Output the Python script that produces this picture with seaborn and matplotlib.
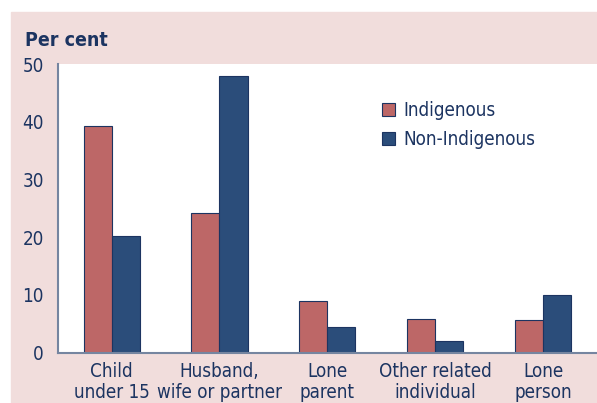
import pandas as pd
import matplotlib.pyplot as plt
import matplotlib.patches as mpatches
import seaborn as sns

categories = ["Child\nunder 15", "Husband,\nwife or partner", "Lone\nparent",
              "Other related\nindividual", "Lone\nperson"]
indigenous = [39.3, 24.2, 9.0, 5.8, 5.7]
non_indigenous = [20.2, 48.0, 4.5, 2.0, 10.0]
groups = ["Indigenous", "Non-Indigenous"]
yticks = [0, 10, 20, 30, 40, 50]

df = pd.DataFrame({
    "category": categories * 2,
    "value": indigenous + non_indigenous,
    "group": [groups[0]] * len(categories) + [groups[1]] * len(categories),
})

pink = "#f1dddc"
navy = "#1c3461"
colors = {"Indigenous": "#bd6767", "Non-Indigenous": "#2b4d7a"}

sns.set_style("white")
plt.rcParams["font.family"] = ["Liberation Sans Narrow", "DejaVu Sans"]
plt.rcParams["font.stretch"] = "condensed"

fig = plt.figure(figsize=(5.97, 4.03), dpi=100, facecolor="white")
# pink panel behind the chart
fig.patches.append(mpatches.Rectangle((11 / 597, 0), 1, (403 - 12) / 403,
                                      transform=fig.transFigure, color=pink, zorder=-5))
ax = fig.add_axes([57.7 / 597, (403 - 352.7) / 403, (597 - 57.7) / 597, (352.7 - 64) / 403])
ax.set_zorder(1)
ax.set_facecolor("white")

sns.barplot(data=df, x="category", y="value", hue="group", palette=colors,
            saturation=1, width=0.52, edgecolor=navy, linewidth=0.8, ax=ax, legend=False)

ax.set_xlim(-0.5, 4.5)
ax.set_ylim(0, 50)
ax.set_yticks(yticks)
ax.set_xlabel("")
ax.set_ylabel("")

for s in ["top", "right"]:
    ax.spines[s].set_visible(False)
for s in ["left", "bottom"]:
    ax.spines[s].set_color("#7585a0")
    ax.spines[s].set_linewidth(1.5)

ax.tick_params(axis="y", direction="out", length=7, width=1.2, color="#7585a0",
               labelsize=13.5, labelcolor=navy, pad=3)
ax.tick_params(axis="x", length=0, labelsize=13.5, labelcolor=navy, pad=7)
for lbl in ax.get_xticklabels():
    lbl.set_linespacing(1.1)

fig.text(25 / 597, 1 - 40 / 403, "Per cent", fontsize=14, fontweight="bold",
         color=navy, va="center", ha="left")

handles = [mpatches.Patch(facecolor=colors[g], edgecolor=navy, linewidth=0.8) for g in groups]
leg = ax.legend(handles, groups, loc="upper left", bbox_to_anchor=(0.57, 0.93),
                frameon=False, fontsize=13.5, handlelength=0.7, handleheight=0.7,
                handletextpad=0.45, labelspacing=0.55)
for t in leg.get_texts():
    t.set_color(navy)

plt.savefig("out.png", dpi=100, facecolor=fig.get_facecolor())
plt.close()
